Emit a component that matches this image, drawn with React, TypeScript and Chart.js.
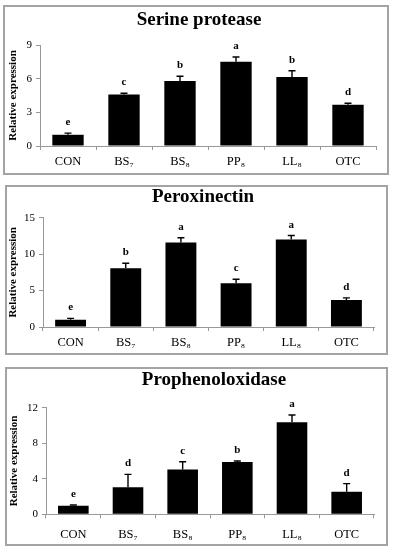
import React, { useEffect, useRef } from "react";
import { Chart, registerables } from "chart.js";

Chart.register(...registerables);

const FONT = '"Liberation Serif", "Times New Roman", serif';

const categories = ["CON", "BS₇", "BS₈", "PP₈", "LL₈", "OTC"];

const serineValues = [1.0, 4.6, 5.8, 7.5, 6.15, 3.68];
const serineErrors = [0.15, 0.1, 0.42, 0.43, 0.56, 0.13];
const serineLetters = ["e", "c", "b", "a", "b", "d"];
const serineAxis = { max: 9, step: 3 };

const peroxValues = [1.0, 8.05, 11.6, 6.0, 12.0, 3.7];
const peroxErrors = [0.18, 0.7, 0.65, 0.55, 0.55, 0.3];
const peroxLetters = ["e", "b", "a", "c", "a", "d"];
const peroxAxis = { max: 15, step: 5 };

const prophValues = [0.97, 3.05, 5.05, 5.88, 10.35, 2.55];
const prophErrors = [0.08, 1.45, 0.87, 0.12, 0.82, 0.9];
const prophLetters = ["e", "d", "c", "b", "a", "d"];
const prophAxis = { max: 12, step: 4 };

type Layout = {
  left: number; top: number; width: number; height: number;
  padLeft: number; padRight: number; padTop: number; yWidth: number; xHeight: number;
  titleX: number; titleY: number; labelPad: number;
};

function Panel(props: {
  title: string; values: number[]; errors: number[]; letters: string[];
  max: number; step: number; layout: Layout;
}) {
  const ref = useRef<HTMLCanvasElement | null>(null);
  const { title, values, errors, letters, max, step, layout } = props;
  const innerW = layout.width - 4;
  const innerH = layout.height - 4;

  useEffect(() => {
    if (!ref.current) return;
    const titlePlugin = {
      id: "panelTitle",
      afterDraw(chart: any) {
        const { ctx } = chart;
        ctx.save();
        ctx.fillStyle = "#000";
        ctx.font = `bold 19px ${FONT}`;
        ctx.textAlign = "center";
        ctx.textBaseline = "middle";
        ctx.fillText(title, layout.titleX - layout.left - 2, layout.titleY - layout.top - 2);
        ctx.restore();
      },
    };
    const errPlugin = {
      id: "errbarsLetters",
      afterDatasetsDraw(chart: any) {
        const { ctx } = chart;
        const meta = chart.getDatasetMeta(0);
        const yScale = chart.scales.y;
        ctx.save();
        ctx.strokeStyle = "#000";
        ctx.fillStyle = "#000";
        ctx.lineWidth = 1.4;
        ctx.font = `bold 11px ${FONT}`;
        ctx.textAlign = "center";
        ctx.textBaseline = "alphabetic";
        meta.data.forEach((bar: any, i: number) => {
          const x = bar.x;
          const top = yScale.getPixelForValue(values[i] + errors[i]);
          ctx.beginPath();
          ctx.moveTo(x, bar.y);
          ctx.lineTo(x, top);
          ctx.moveTo(x - 3.5, top);
          ctx.lineTo(x + 3.5, top);
          ctx.stroke();
          ctx.fillText(letters[i], x, top - 8);
        });
        ctx.restore();
      },
    };
    const chart = new Chart(ref.current, {
      type: "bar",
      data: {
        labels: categories,
        datasets: [
          {
            data: values,
            backgroundColor: "#000",
            borderWidth: 0,
            barPercentage: 0.56,
            categoryPercentage: 1,
          },
        ],
      },
      options: {
        responsive: false,
        animation: false,
        layout: { padding: { left: layout.padLeft, right: layout.padRight, top: layout.padTop, bottom: 0 } },
        plugins: {
          legend: { display: false },
          tooltip: { enabled: false },
          title: { display: false },
        },
        scales: {
          x: {
            grid: { display: true, drawOnChartArea: false, drawTicks: true, tickLength: 4, color: "#999", offset: true },
            border: { display: true, color: "#999" },
            ticks: { color: "#000", font: { family: FONT, size: 12.5 }, padding: layout.labelPad, maxRotation: 0, autoSkip: false },
            afterFit: (s: any) => { s.height = layout.xHeight; },
          },
          y: {
            min: 0,
            max,
            ticks: { stepSize: step, color: "#000", font: { family: FONT, size: 11 }, padding: 4 },
            grid: { drawOnChartArea: false, drawTicks: true, tickLength: 4, color: "#999" },
            border: { display: true, color: "#999" },
            title: { display: true, text: "Relative expression", color: "#000", font: { family: FONT, size: 11, weight: "bold" }, padding: 0 },
            afterFit: (s: any) => { s.width = layout.yWidth; },
          },
        },
      },
      plugins: [errPlugin, titlePlugin],
    } as any);
    return () => chart.destroy();
  }, []);

  return (
    <div
      style={{
        position: "absolute",
        left: layout.left,
        top: layout.top,
        width: innerW,
        height: innerH,
        border: "2px solid #a3a3a3",
        background: "#fff",
      }}
    >
      <canvas ref={ref} width={innerW} height={innerH} style={{ display: "block", width: innerW, height: innerH }} />
    </div>
  );
}

export default function App() {
  return (
    <div style={{ position: "absolute", left: 0, top: 0, width: 395, height: 550, background: "#fff" }}>
      <Panel
        title="Serine protease"
        values={serineValues}
        errors={serineErrors}
        letters={serineLetters}
        max={serineAxis.max}
        step={serineAxis.step}
        layout={{ left: 3, top: 5, width: 386, height: 170, padLeft: 1.4, padRight: 11, padTop: 38, yWidth: 33.6, xHeight: 27, titleX: 199, titleY: 20.5, labelPad: 4 }}
      />
      <Panel
        title="Peroxinectin"
        values={peroxValues}
        errors={peroxErrors}
        letters={peroxLetters}
        max={peroxAxis.max}
        step={peroxAxis.step}
        layout={{ left: 5, top: 185, width: 383, height: 170, padLeft: 0, padRight: 12, padTop: 30.7, yWidth: 36, xHeight: 26, titleX: 203, titleY: 197, labelPad: 4 }}
      />
      <Panel
        title="Prophenoloxidase"
        values={prophValues}
        errors={prophErrors}
        letters={prophLetters}
        max={prophAxis.max}
        step={prophAxis.step}
        layout={{ left: 5, top: 367, width: 383, height: 179, padLeft: 0.4, padRight: 12, padTop: 38.7, yWidth: 38.6, xHeight: 29.7, titleX: 214, titleY: 380.5, labelPad: 9 }}
      />
    </div>
  );
}
